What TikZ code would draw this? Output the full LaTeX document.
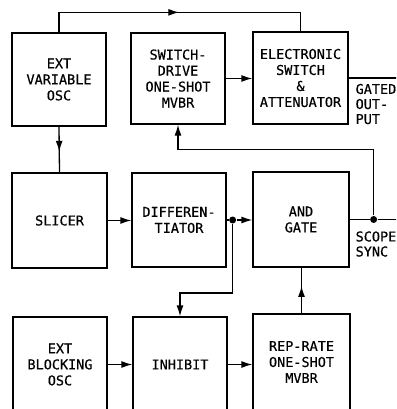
\documentclass[tikz,border=0pt]{standalone}
\usepackage{fontspec}
\newfontfamily\blkfont[FakeBold=0.5]{DejaVu Sans Mono}
\usetikzlibrary{arrows.meta, positioning, calc, decorations.markings}

\begin{document}
\begin{tikzpicture}[
  x=1pt, y=-1pt,
  line width=1.3pt,
  box/.style={draw, minimum width=94pt, minimum height=93pt, inner sep=0pt, align=center,
              font=\blkfont\fontsize{13.5}{16}\selectfont},
  lbl/.style={anchor=west, inner sep=0pt, align=left, font=\blkfont\fontsize{13.5}{15}\selectfont},
  arr/.style={-{Latex[length=11pt, width=7pt]}},
  midarr/.style={postaction={decorate}, decoration={markings,
                 mark=at position #1 with {\arrow{Latex[length=11pt, width=7pt]}}}},
  dot/.style={circle, fill, inner sep=0pt, minimum size=7pt},
]
\useasboundingbox (0,0) rectangle (396,409);
\clip (0,0) rectangle (396,409);

% top row
\node[box] (varosc) at (59,79.5)  {EXT\\VARIABLE\\OSC};
\node[box, minimum height=91pt] (drive) at (178,78.5) {SWITCH-\\DRIVE\\ONE-SHOT\\MVBR};
\node[box, minimum width=95pt, minimum height=92pt] (elsw) at (300.5,78) {ELECTRONIC\\SWITCH\\\&\\ATTENUATOR};

% middle row
\node[box, minimum width=95pt, minimum height=95pt] (slicer) at (59.5,220.5) {SLICER};
\node[box, minimum height=94pt] (diff) at (179,220) {DIFFEREN-\\TIATOR};
\node[box, minimum width=96pt, minimum height=95pt] (andgate) at (301,219.5) {AND\\GATE};

% bottom row
\node[box, minimum height=95pt] (blocking) at (60,364.5) {EXT\\BLOCKING\\OSC};
\node[box, minimum height=95pt] (inhibit) at (180,364.5) {INHIBIT};
\node[box, minimum width=97pt, minimum height=96pt] (reprate) at (301.5,362) {REP-RATE\\ONE-SHOT\\MVBR};

\node[dot] (tap1) at ([xshift=6pt]diff.east) {};
\node[dot] (tap2) at ([xshift=24pt]andgate.east) {};
\coordinate (gatedend) at (400,78);
\coordinate (syncend) at (400,219.5);

\node[lbl] (gated) at (355,104) {GATED\\OUT-\\PUT};
\node[lbl] (sync) at (355,244) {SCOPE\\SYNC};

\draw[midarr=0.5] (varosc.north) -- ++(0,-20) -| (elsw.north);
\draw[arr] (drive.east) -- (drive.east -| elsw.west);
\draw (elsw.east |- gatedend) -- (gatedend);
\draw[midarr=0.55] (varosc.south) -- (slicer.north);
\draw[arr] (slicer.east) -- (slicer.east -| diff.west);
\draw (diff.east) -- (tap1);
\draw[arr] (tap1) -- (tap1 -| andgate.west);
\draw[arr] (tap1) -- ++(0,73) -| (inhibit.north);
\draw (andgate.east) -- (tap2) -- (syncend);
\draw[arr] (tap2) -- ++(0,-70) -| (drive.south);
\draw[midarr=0.6] (reprate.north) -- (reprate.north |- andgate.south);
\draw[arr] (blocking.east) -- (blocking.east -| inhibit.west);
\draw[arr] (inhibit.east) -- (inhibit.east -| reprate.west);
\end{tikzpicture}
\end{document}
